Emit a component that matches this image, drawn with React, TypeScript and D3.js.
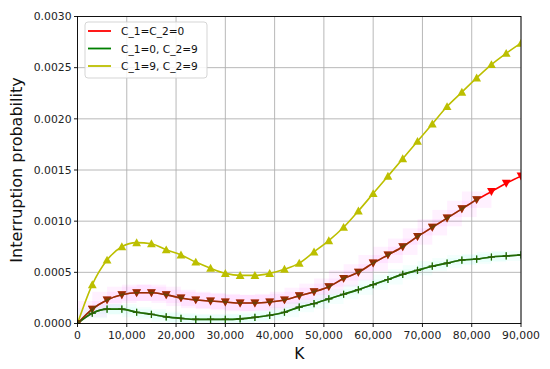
import React from "react";
import * as d3 from "d3";

// K values (markers every 3,000)
const kValues = [
  0, 3000, 6000, 9000, 12000, 15000, 18000, 21000, 24000, 27000, 30000,
  33000, 36000, 39000, 42000, 45000, 48000, 51000, 54000, 57000, 60000,
  63000, 66000, 69000, 72000, 75000, 78000, 81000, 84000, 87000, 90000,
];

// C_1=C_2=0
const seriesRed = [
  0, 0.00014, 0.00023, 0.00028, 0.0003, 0.0003, 0.00028, 0.00025, 0.00023,
  0.00022, 0.00021, 0.0002, 0.0002, 0.00021, 0.00023, 0.00027, 0.00031,
  0.00036, 0.00044, 0.0005, 0.00059, 0.00067, 0.00075, 0.00085, 0.00094,
  0.00103, 0.00112, 0.00121, 0.00129, 0.00137, 0.00144,
];
// C_1=0, C_2=9
const seriesGreen = [
  0, 0.0001, 0.00014, 0.00014, 0.00011, 0.00009, 0.000065, 0.00005, 0.00004,
  0.00004, 0.00004, 0.000045, 0.00006, 0.00008, 0.00011, 0.00016, 0.000195,
  0.00024, 0.000286, 0.00033, 0.00038, 0.00043, 0.00048, 0.00052, 0.00056,
  0.00059, 0.00062, 0.00063, 0.00065, 0.00066, 0.00067,
];
// C_1=9, C_2=9
const seriesYellow = [
  0, 0.00038, 0.00062, 0.00075, 0.00079, 0.00078, 0.00072, 0.00067, 0.0006,
  0.00054, 0.00049, 0.00047, 0.00047, 0.00049, 0.00053, 0.00059, 0.0007,
  0.00081, 0.00094, 0.0011, 0.00127, 0.00144, 0.00161, 0.00178, 0.00195,
  0.00212, 0.00226, 0.0024, 0.00253, 0.00264, 0.00274,
];

const legendLabels = ["C_1=C_2=0", "C_1=0, C_2=9", "C_1=9, C_2=9"];
const xTicks = [0, 10000, 20000, 30000, 40000, 50000, 60000, 70000, 80000, 90000];
const yTicks = [0, 0.0005, 0.001, 0.0015, 0.002, 0.0025, 0.003];

// simulation overlay range (darker markers + shaded bands)
const simStart = 3000;
const simEndRed = 81000;
const simEndGreen = 87000;
const bandRed = 0.00008;
const bandGreen = 0.00005;

const W = 550;
const H = 369;
const left = 77.5;
const right = 521;
const top = 16.5;
const bottom = 323.5;
const font = "DejaVu Sans, sans-serif";

const RED = "#ff0000";
const GREEN = "#008000";
const YELLOW = "#bcbf00";
const OVER = "rgba(60,85,10,0.55)";

export default function App() {
  const x = d3.scaleLinear().domain([0, 90000]).range([left, right]);
  const y = d3.scaleLinear().domain([0, 0.003]).range([bottom, top]);

  const mk = (vals: number[], from = 0, to = 90000) => {
    const pts: [number, number][] = kValues
      .map((k, i) => [k, vals[i]] as [number, number])
      .filter((p) => p[0] >= from && p[0] <= to);
    return (
      d3
        .line<[number, number]>()
        .x((d) => x(d[0]))
        .y((d) => y(d[1]))
        .curve(d3.curveMonotoneX)(pts) || ""
    );
  };

  const tri = (cx: number, cy: number, up: boolean, r = 4.4) =>
    up
      ? `M${cx},${cy - r}L${cx + r},${cy + r * 0.8}L${cx - r},${cy + r * 0.8}Z`
      : `M${cx},${cy + r}L${cx + r},${cy - r * 0.8}L${cx - r},${cy - r * 0.8}Z`;

  const plus = (k: number, v: number, color: string, key: string) => (
    <g key={key} stroke={color} strokeWidth={1.2}>
      <line x1={x(k) - 3.6} x2={x(k) + 3.6} y1={y(v)} y2={y(v)} />
      <line x1={x(k)} x2={x(k)} y1={y(v) - 3.6} y2={y(v) + 3.6} />
    </g>
  );

  const band = (vals: number[], from: number, to: number, half: number, color: string, op: number) =>
    kValues.map((k, i) =>
      k >= from && k <= to ? (
        <rect
          key={"b" + color + i}
          x={x(Math.max(0, k - 3000))}
          width={x(k + 3000) - x(Math.max(0, k - 3000))}
          y={y(vals[i] + half)}
          height={y(vals[i] - half) - y(vals[i] + half)}
          fill={color}
          opacity={op}
        />
      ) : null
    );

  return (
    <svg
      width={W}
      height={H}
      style={{ position: "absolute", left: 0, top: 0, background: "#fff" }}
      fontFamily={font}
    >
      <rect width={W} height={H} fill="#fff" />
      <defs>
        <clipPath id="plot">
          <rect x={left} y={top} width={right - left} height={bottom - top} />
        </clipPath>
      </defs>

      {/* grid */}
      {xTicks.map((t) => (
        <line key={"gx" + t} x1={x(t)} x2={x(t)} y1={top} y2={bottom} stroke="#b0b0b0" strokeWidth={0.9} />
      ))}
      {yTicks.map((t) => (
        <line key={"gy" + t} x1={left} x2={right} y1={y(t)} y2={y(t)} stroke="#b0b0b0" strokeWidth={0.9} />
      ))}

      <g clipPath="url(#plot)">
        {band(seriesRed, simStart, simEndRed, bandRed, "#ff00ff", 0.055)}
        {band(seriesGreen, simStart, simEndGreen, bandGreen, "#00ffcc", 0.045)}

        {/* lines */}
        <path d={mk(seriesYellow)} fill="none" stroke={YELLOW} strokeWidth={1.6} />
        <path d={mk(seriesRed)} fill="none" stroke={RED} strokeWidth={1.6} />
        <path d={mk(seriesGreen)} fill="none" stroke={GREEN} strokeWidth={1.6} />

        {/* markers */}
        {kValues.map((k, i) => (
          <path key={"my" + i} d={tri(x(k), y(seriesYellow[i]), true)} fill={YELLOW} />
        ))}
        {kValues.map((k, i) => (
          <path key={"mr" + i} d={tri(x(k), y(seriesRed[i]), false)} fill={RED} />
        ))}
        {kValues.map((k, i) => plus(k, seriesGreen[i], GREEN, "mg" + i))}

        {/* simulation overlay (darker) */}
        <path d={mk(seriesRed, 0, simEndRed)} fill="none" stroke={OVER} strokeWidth={1.6} />
        <path d={mk(seriesGreen)} fill="none" stroke={OVER} strokeWidth={1.6} />
        {kValues.map((k, i) =>
          k <= simEndRed ? (
            <path key={"or" + i} d={tri(x(k), y(seriesRed[i]), false)} fill={OVER} />
          ) : null
        )}
        {kValues.map((k, i) => plus(k, seriesGreen[i], OVER, "og" + i))}
      </g>

      {/* frame */}
      <rect x={left} y={top} width={right - left} height={bottom - top} fill="none" stroke="#000" strokeWidth={0.9} />

      {/* x axis */}
      {xTicks.map((t) => (
        <g key={"tx" + t}>
          <line x1={x(t)} x2={x(t)} y1={bottom} y2={bottom + 3.5} stroke="#000" strokeWidth={0.9} />
          <text x={x(t)} y={bottom + 15} fontSize={10.8} textAnchor="middle" fill="#222">
            {d3.format(",")(t)}
          </text>
        </g>
      ))}
      {/* y axis */}
      {yTicks.map((t) => (
        <g key={"ty" + t}>
          <line x1={left - 3.5} x2={left} y1={y(t)} y2={y(t)} stroke="#000" strokeWidth={0.9} />
          <text x={left - 6} y={y(t) + 3.8} fontSize={10.8} textAnchor="end" fill="#222">
            {t.toFixed(4)}
          </text>
        </g>
      ))}

      <text x={(left + right) / 2} y={359} fontSize={15.5} textAnchor="middle" fill="#111">
        K
      </text>
      <text
        transform={`translate(22,${(top + bottom) / 2}) rotate(-90)`}
        fontSize={16}
        textAnchor="middle"
        fill="#111"
      >
        Interruption probability
      </text>

      {/* legend */}
      <rect x={85} y={22} width={122} height={56} rx={3} fill="#fff" fillOpacity={0.85} stroke="#d0d0d0" strokeWidth={0.9} />
      {legendLabels.map((lab, i) => (
        <g key={"lg" + i}>
          <line
            x1={88}
            x2={111}
            y1={31 + i * 17.5}
            y2={31 + i * 17.5}
            stroke={[RED, GREEN, YELLOW][i]}
            strokeWidth={1.8}
          />
          <text x={121} y={31 + i * 17.5 + 4} fontSize={10.6} fill="#111">
            {lab}
          </text>
        </g>
      ))}
    </svg>
  );
}
